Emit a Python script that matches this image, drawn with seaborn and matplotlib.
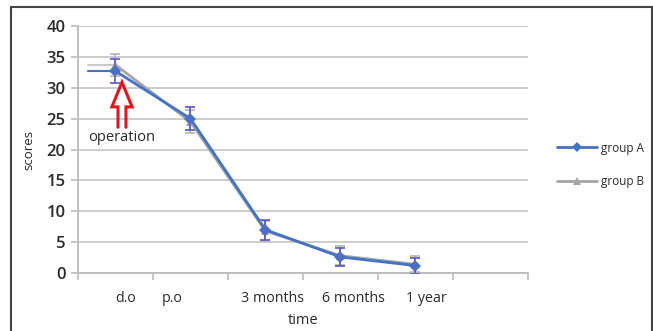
import matplotlib
matplotlib.use("Agg")
import matplotlib.pyplot as plt
import seaborn as sns
import pandas as pd
from matplotlib.patches import Rectangle
from matplotlib.lines import Line2D

# Follow-up time points and mean scores (with SD) for both groups
timepoints = ["d.o", "p.o", "3 months", "6 months", "1 year"]
group_a = [32.7, 25.0, 7.0, 2.6, 1.2]
group_a_sd = [2.0, 1.9, 1.6, 1.5, 1.3]
group_b = [33.7, 24.5, 6.8, 2.8, 1.4]
group_b_sd = [1.8, 1.9, 1.6, 1.5, 1.3]
groups = ["group A", "group B"]
y_ticks = [0, 5, 10, 15, 20, 25, 30, 35, 40]

sns.set_theme(style="white")
plt.rcParams["font.family"] = ["Open Sans", "DejaVu Sans"]

BLUE = "#4472C4"
GREY = "#A5A5A5"
TEXT = "#2A2A2A"

# Points sit in the middle of each category slot
pos = [i + 0.5 for i in range(len(timepoints))]
df = pd.DataFrame({
    "pos": pos * 2,
    "score": group_a + group_b,
    "group": [groups[0]] * len(pos) + [groups[1]] * len(pos),
})

fig = plt.figure(figsize=(6.53, 3.31), dpi=100)
ax = fig.add_axes([0.1194, 0.1752, 0.6891, 0.7462])

# Grey series first so blue stays on top
sns.lineplot(data=df, x="pos", y="score", hue="group", style="group",
             hue_order=groups[::-1], style_order=groups[::-1],
             palette={groups[0]: BLUE, groups[1]: GREY},
             markers={groups[0]: "D", groups[1]: "^"}, dashes=False,
             markersize=6, linewidth=2, markeredgewidth=0, ax=ax, legend=False)

ax.errorbar(pos, group_b, yerr=group_b_sd, fmt="none", ecolor="#B4B4B4",
            elinewidth=1.2, capsize=3.5, capthick=1.2, zorder=3)
ax.errorbar(pos, group_a, yerr=group_a_sd, fmt="none", ecolor="#5656C8",
            elinewidth=1.2, capsize=3.5, capthick=1.2, zorder=4)

# short lead-in strokes before the pre-operative point
ax.plot([0.13, pos[0]], [group_b[0], group_b[0]], color="#BDBDBD", lw=1.2, zorder=2)
ax.plot([0.13, pos[0]], [group_a[0], group_a[0]], color=BLUE, lw=1.5, zorder=2)

ax.set_xlim(0, 6)
ax.set_ylim(0, 40)
ax.set_yticks(y_ticks)
ax.set_xticks(range(7))
ax.set_xticklabels([])
ax.yaxis.grid(True, color="#C8C8C8", lw=1.3)
ax.set_axisbelow(True)
for s in ["top", "right"]:
    ax.spines[s].set_visible(False)
for s in ["left", "bottom"]:
    ax.spines[s].set_color("#BBBBBB")
    ax.spines[s].set_linewidth(1.3)
ax.tick_params(axis="y", which="major", length=5, width=1.2, color="#BBBBBB",
               labelsize=12, labelcolor=TEXT, pad=4, left=True)
for t in ax.get_yticklabels():
    t.set_fontweight("semibold")
ax.tick_params(axis="x", which="major", length=5, width=1.2, color="#BBBBBB",
               bottom=True)

# category labels, set slightly apart from the points
label_shift = [0.13, -0.25, 0.09, 0.17, 0.15]
ax.set_xticks([p + d for p, d in zip(pos, label_shift)], minor=True)
ax.set_xticklabels(timepoints, minor=True)
ax.tick_params(axis="x", which="minor", length=0, labelsize=10.3,
               labelcolor=TEXT, pad=13)

ax.set_xlabel("time", fontsize=10.5, color=TEXT, labelpad=5)
ax.set_ylabel("scores", fontsize=9.5, color=TEXT, labelpad=8)

# open red arrow marking the operation
cx = pos[0] + 0.087
shaft, head = 0.053, 0.135
tip, base, bottom = 30.9, 26.9, 23.6
ax.plot([cx - shaft, cx - shaft, cx - head, cx, cx + head, cx + shaft, cx + shaft],
        [bottom, base, base, tip, base, base, bottom],
        color="#E4141C", lw=2.2, solid_joinstyle="miter", zorder=5)
ax.text(cx - 0.01, 22.0, "operation", fontsize=10.5, color=TEXT,
        ha="center", va="center")

# legend to the right of the plot
handles = [Line2D([], [], color=BLUE, marker="D", markersize=5, lw=2,
                  markeredgewidth=0),
           Line2D([], [], color=GREY, marker="^", markersize=6, lw=2,
                  markeredgewidth=0)]
leg = fig.legend(handles, groups, loc="center left", bbox_to_anchor=(0.837, 0.502),
                 frameon=False, fontsize=8.5, handlelength=3.4, labelspacing=1.75,
                 handletextpad=0.35)
for t in leg.get_texts():
    t.set_color(TEXT)

# outer frame
fig.patches.append(Rectangle((0.0168, -0.2), 0.981, 1.179, transform=fig.transFigure,
                             fill=False, edgecolor="#444444", lw=1.5))

fig.savefig("out.png", dpi=100)
